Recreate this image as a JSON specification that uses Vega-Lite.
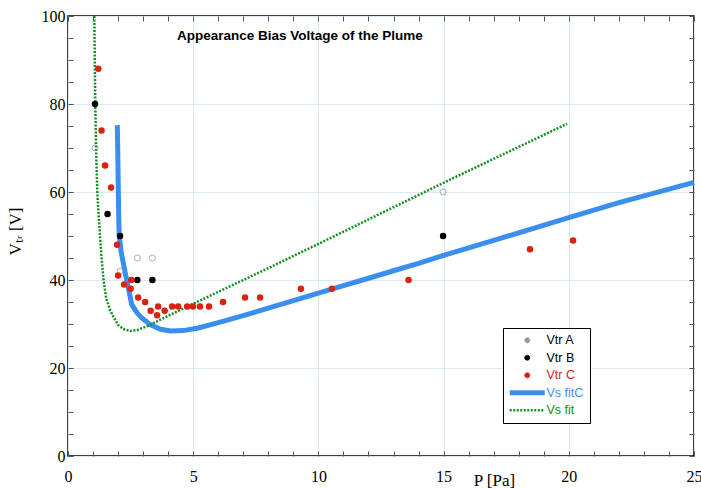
{
  "$schema": "https://vega.github.io/schema/vega-lite/v6.json",
  "width": 626,
  "height": 440,
  "autosize": {"type": "none"},
  "padding": {"left": 68, "top": 16, "right": 7, "bottom": 33},
  "background": "white",
  "config": {
    "view": {"stroke": "black", "strokeWidth": 1.5},
    "axis": {"labelFont": "Liberation Serif", "titleFont": "Liberation Serif"}
  },
  "title": {
    "text": "Appearance Bias Voltage of the Plume",
    "anchor": "start",
    "dx": 171,
    "offset": -34,
    "font": "Liberation Sans",
    "fontSize": 13.5,
    "fontWeight": "bold",
    "color": "black"
  },
  "datasets": {
    "pts": [
      {"s": "Vtr A", "P": 1.08, "V": 70},
      {"s": "Vtr A", "P": 2.08, "V": 42},
      {"s": "Vtr A", "P": 2.77, "V": 45},
      {"s": "Vtr A", "P": 3.37, "V": 45},
      {"s": "Vtr A", "P": 14.98, "V": 60},
      {"s": "Vtr B", "P": 1.08, "V": 80},
      {"s": "Vtr B", "P": 1.58, "V": 55},
      {"s": "Vtr B", "P": 2.08, "V": 50},
      {"s": "Vtr B", "P": 2.77, "V": 40},
      {"s": "Vtr B", "P": 3.37, "V": 40},
      {"s": "Vtr B", "P": 14.98, "V": 50},
      {"s": "Vtr C", "P": 1.21, "V": 88},
      {"s": "Vtr C", "P": 1.34, "V": 74},
      {"s": "Vtr C", "P": 1.48, "V": 66},
      {"s": "Vtr C", "P": 1.72, "V": 61},
      {"s": "Vtr C", "P": 1.96, "V": 48},
      {"s": "Vtr C", "P": 2.0, "V": 41},
      {"s": "Vtr C", "P": 2.24, "V": 39},
      {"s": "Vtr C", "P": 2.53, "V": 40},
      {"s": "Vtr C", "P": 2.5, "V": 38},
      {"s": "Vtr C", "P": 2.8, "V": 36},
      {"s": "Vtr C", "P": 3.08, "V": 35},
      {"s": "Vtr C", "P": 3.3, "V": 33},
      {"s": "Vtr C", "P": 3.56, "V": 32},
      {"s": "Vtr C", "P": 3.6, "V": 34},
      {"s": "Vtr C", "P": 3.86, "V": 33},
      {"s": "Vtr C", "P": 4.16, "V": 34},
      {"s": "Vtr C", "P": 4.4, "V": 34},
      {"s": "Vtr C", "P": 4.76, "V": 34},
      {"s": "Vtr C", "P": 4.99, "V": 34},
      {"s": "Vtr C", "P": 5.27, "V": 34},
      {"s": "Vtr C", "P": 5.63, "V": 34},
      {"s": "Vtr C", "P": 6.19, "V": 35},
      {"s": "Vtr C", "P": 7.07, "V": 36},
      {"s": "Vtr C", "P": 7.67, "V": 36},
      {"s": "Vtr C", "P": 9.3, "V": 38},
      {"s": "Vtr C", "P": 10.54, "V": 38},
      {"s": "Vtr C", "P": 13.6, "V": 40},
      {"s": "Vtr C", "P": 18.45, "V": 47},
      {"s": "Vtr C", "P": 20.17, "V": 49}
    ],
    "fitC": [
      {"s": "Vs fitC", "P": 1.97, "V": 75.2},
      {"s": "Vs fitC", "P": 1.99, "V": 68},
      {"s": "Vs fitC", "P": 2.01, "V": 60},
      {"s": "Vs fitC", "P": 2.03, "V": 53},
      {"s": "Vs fitC", "P": 2.05, "V": 49.8},
      {"s": "Vs fitC", "P": 2.12, "V": 46.5},
      {"s": "Vs fitC", "P": 2.21, "V": 43.8},
      {"s": "Vs fitC", "P": 2.3, "V": 41.2},
      {"s": "Vs fitC", "P": 2.41, "V": 38.3},
      {"s": "Vs fitC", "P": 2.54, "V": 34.5},
      {"s": "Vs fitC", "P": 2.75, "V": 32.6},
      {"s": "Vs fitC", "P": 2.94, "V": 31.4},
      {"s": "Vs fitC", "P": 3.3, "V": 29.8},
      {"s": "Vs fitC", "P": 3.7, "V": 28.8},
      {"s": "Vs fitC", "P": 4.1, "V": 28.4},
      {"s": "Vs fitC", "P": 4.6, "V": 28.5},
      {"s": "Vs fitC", "P": 5.2, "V": 29.1},
      {"s": "Vs fitC", "P": 6, "V": 30.3},
      {"s": "Vs fitC", "P": 7, "V": 31.9},
      {"s": "Vs fitC", "P": 8, "V": 33.6},
      {"s": "Vs fitC", "P": 9, "V": 35.3},
      {"s": "Vs fitC", "P": 10, "V": 37},
      {"s": "Vs fitC", "P": 11, "V": 38.7},
      {"s": "Vs fitC", "P": 12, "V": 40.4},
      {"s": "Vs fitC", "P": 13, "V": 42.1},
      {"s": "Vs fitC", "P": 14, "V": 43.8},
      {"s": "Vs fitC", "P": 15, "V": 45.6},
      {"s": "Vs fitC", "P": 17, "V": 49},
      {"s": "Vs fitC", "P": 20, "V": 54.2},
      {"s": "Vs fitC", "P": 22, "V": 57.6},
      {"s": "Vs fitC", "P": 25, "V": 62.2}
    ],
    "fit": [
      {"s": "Vs fit", "P": 1.05, "V": 100},
      {"s": "Vs fit", "P": 1.07, "V": 90},
      {"s": "Vs fit", "P": 1.09, "V": 80},
      {"s": "Vs fit", "P": 1.12, "V": 70},
      {"s": "Vs fit", "P": 1.17, "V": 60},
      {"s": "Vs fit", "P": 1.22, "V": 55},
      {"s": "Vs fit", "P": 1.28, "V": 50},
      {"s": "Vs fit", "P": 1.34, "V": 45},
      {"s": "Vs fit", "P": 1.42, "V": 40},
      {"s": "Vs fit", "P": 1.52, "V": 36},
      {"s": "Vs fit", "P": 1.68, "V": 33.2},
      {"s": "Vs fit", "P": 1.81, "V": 31.7},
      {"s": "Vs fit", "P": 2.0, "V": 29.8},
      {"s": "Vs fit", "P": 2.2, "V": 28.9},
      {"s": "Vs fit", "P": 2.5, "V": 28.4},
      {"s": "Vs fit", "P": 2.8, "V": 28.7},
      {"s": "Vs fit", "P": 3.2, "V": 29.6},
      {"s": "Vs fit", "P": 3.94, "V": 31.7},
      {"s": "Vs fit", "P": 5, "V": 34.6},
      {"s": "Vs fit", "P": 7.67, "V": 41.8},
      {"s": "Vs fit", "P": 10, "V": 48.2},
      {"s": "Vs fit", "P": 15, "V": 62.1},
      {"s": "Vs fit", "P": 19.93, "V": 75.5}
    ]
  },
  "layer": [
    {
      "data": {"name": "fitC"},
      "mark": {"type": "line", "strokeWidth": 5, "strokeCap": "butt"},
      "encoding": {
        "x": {
          "field": "P", "type": "quantitative",
          "scale": {"domain": [0, 25], "nice": false, "zero": false},
          "axis": {
            "orient": "bottom",
            "values": [0,1,2,3,4,5,6,7,8,9,10,11,12,13,14,15,16,17,18,19,20,21,22,23,24,25],
            "labelExpr": "datum.value % 5 === 0 ? datum.label : ''",
            "labelOverlap": false,
            "labelFlush": false,
            "labelFontSize": 16,
            "labelColor": "black",
            "labelPadding": 17,
            "domain": false,
            "tickSize": -5,
            "tickColor": "#555",
            "gridColor": "#dbe8f8",
            "gridOpacity": {"condition": {"test": "datum.value % 5 === 0", "value": 1}, "value": 0},
            "title": "P [Pa]",
            "titleFontSize": 17,
            "titleFontWeight": "normal",
            "titleColor": "black",
            "titleX": 426,
            "titleY": 29,
            "titleAlign": "center",
            "titleBaseline": "alphabetic"
          }
        },
        "y": {
          "field": "V", "type": "quantitative",
          "scale": {"domain": [0, 100], "nice": false},
          "axis": {
            "orient": "left",
            "values": [0,5,10,15,20,25,30,35,40,45,50,55,60,65,70,75,80,85,90,95,100],
            "labelExpr": "datum.value % 20 === 0 ? datum.label : ''",
            "labelOverlap": false,
            "labelFlush": false,
            "labelFontSize": 16,
            "labelColor": "black",
            "labelPadding": 8,
            "domain": false,
            "tickSize": -5,
            "tickColor": "#555",
            "gridColor": "#dbe8f8",
            "gridOpacity": {"condition": {"test": "datum.value % 20 === 0", "value": 1}, "value": 0},
            "title": "Vₜᵣ [V]",
            "titleFontSize": 17,
            "titleFontWeight": "normal",
            "titleColor": "black",
            "titleX": -48,
            "titleY": 215,
            "titleAngle": -90,
            "titleAlign": "center",
            "titleBaseline": "alphabetic"
          }
        },
        "color": {
          "field": "s", "type": "nominal",
          "scale": {
            "domain": ["Vtr A", "Vtr B", "Vtr C", "Vs fitC", "Vs fit"],
            "range": ["#999999", "#000000", "#d8230e", "#3a8ef0", "#109020"]
          },
          "legend": {
            "orient": "none",
            "legendX": 435,
            "legendY": 312,
            "title": null,
            "strokeColor": "black",
            "fillColor": "white",
            "padding": 6,
            "labelFont": "Liberation Sans",
            "labelFontSize": 12.5,
            "symbolSize": 25,
            "symbolOffset": 12,
            "labelOffset": 13,
            "rowPadding": 4.5,
            "encode": {
              "symbols": {
                "update": {
                  "shape": {"signal": "datum.value === 'Vs fitC' || datum.value === 'Vs fit' ? 'M-7,0H7' : 'circle'"},
                  "size": {"value": 25},
                  "fill": {"signal": "datum.value === 'Vtr A' ? 'white' : datum.value === 'Vtr B' ? 'black' : datum.value === 'Vtr C' ? '#d8230e' : 'transparent'"},
                  "stroke": {"signal": "datum.value === 'Vtr A' ? '#999999' : datum.value === 'Vs fitC' ? '#3a8ef0' : datum.value === 'Vs fit' ? '#109020' : 'transparent'"},
                  "strokeWidth": {"signal": "datum.value === 'Vs fitC' ? 5 : datum.value === 'Vs fit' ? 2.5 : 0.8"},
                  "strokeDash": {"signal": "datum.value === 'Vs fit' ? [2, 1.5] : [1, 0]"},
                  "strokeJoin": {"value": "round"},
                  "strokeCap": {"value": "butt"},
                  "opacity": {"value": 1}
                }
              },
              "labels": {
                "update": {
                  "fill": {"signal": "datum.value === 'Vtr C' ? '#d8230e' : datum.value === 'Vs fitC' ? '#3a8ef0' : datum.value === 'Vs fit' ? '#109020' : 'black'"}
                }
              }
            }
          }
        }
      }
    },
    {
      "data": {"name": "fit"},
      "mark": {"type": "line", "strokeWidth": 2.5, "strokeDash": [2, 1.5]},
      "encoding": {
        "x": {
          "field": "P", "type": "quantitative",
          "scale": {"domain": [0, 25], "nice": false, "zero": false},
          "axis": {
            "orient": "top",
            "values": [0,1,2,3,4,5,6,7,8,9,10,11,12,13,14,15,16,17,18,19,20,21,22,23,24,25],
            "labels": false, "grid": false, "domain": false,
            "tickSize": -5, "tickColor": "#555", "title": null
          }
        },
        "y": {
          "field": "V", "type": "quantitative",
          "scale": {"domain": [0, 100], "nice": false},
          "axis": {
            "orient": "right",
            "values": [0,5,10,15,20,25,30,35,40,45,50,55,60,65,70,75,80,85,90,95,100],
            "labels": false, "grid": false, "domain": false,
            "tickSize": -5, "tickColor": "#555", "title": null
          }
        },
        "color": {"field": "s", "type": "nominal"}
      }
    },
    {
      "data": {"name": "pts"},
      "transform": [{"filter": "datum.s === 'Vtr A'"}],
      "mark": {"type": "point", "shape": "circle", "filled": false, "size": 36, "strokeWidth": 0.8, "opacity": 1},
      "encoding": {
        "x": {"field": "P", "type": "quantitative", "axis": null},
        "y": {"field": "V", "type": "quantitative", "axis": null},
        "color": {"field": "s", "type": "nominal"}
      }
    },
    {
      "data": {"name": "pts"},
      "transform": [{"filter": "datum.s !== 'Vtr A'"}],
      "mark": {"type": "point", "shape": "circle", "filled": true, "size": 42, "opacity": 1},
      "encoding": {
        "x": {"field": "P", "type": "quantitative", "axis": null},
        "y": {"field": "V", "type": "quantitative", "axis": null},
        "color": {"field": "s", "type": "nominal"}
      }
    }
  ],
  "resolve": {"axis": {"x": "independent", "y": "independent"}}
}
